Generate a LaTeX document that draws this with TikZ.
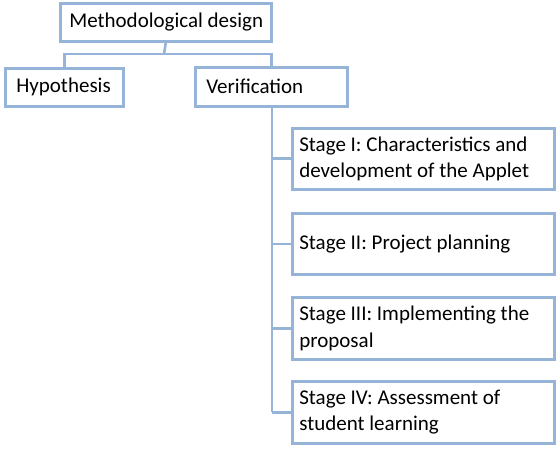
\documentclass[tikz,border=0pt]{standalone}
\usepackage{fontspec}
\setmainfont{Carlito}
\begin{document}
\begin{tikzpicture}[x=1pt,y=-1pt,
  line width=2.6pt,
  box/.style={draw=boxblue, fill=white, anchor=north west, inner sep=0pt},
  txt/.style={anchor=west, inner sep=0pt, align=left, font=\fontsize{21}{26.5}\selectfont},
  link/.style={draw=boxblue}]
\definecolor{boxblue}{RGB}{150,180,215}
\useasboundingbox (0,0) rectangle (556,449);
\node[box, minimum width=211pt, minimum height=38pt] (md) at (59,2) {};
\node[box, minimum width=118pt, minimum height=38pt] (hyp) at (4,67) {};
\node[box, minimum width=152pt, minimum height=39pt] (ver) at (194,66) {};
\node[box, minimum width=262pt, minimum height=61pt] (s1) at (291,127) {};
\node[box, minimum width=262pt, minimum height=61pt] (s2) at (291,212) {};
\node[box, minimum width=262pt, minimum height=62pt] (s3) at (291,296) {};
\node[box, minimum width=262pt, minimum height=62pt] (s4) at (291,380) {};
\node[txt] (mdt) at ([xshift=9pt]md.west) {Methodological design};
\node[txt] (hypt) at ([xshift=11pt]hyp.west) {Hypothesis};
\node[txt] (vert) at ([xshift=11pt]ver.west) {Verification};
\node[txt] (s1t) at ([xshift=7pt]s1.west) {Stage I: Characteristics and\\development of the Applet};
\node[txt] (s2t) at ([xshift=7pt]s2.west) {Stage II: Project planning};
\node[txt] (s3t) at ([xshift=7pt]s3.west) {Stage III: Implementing the\\proposal};
\node[txt] (s4t) at ([xshift=7pt]s4.west) {Stage IV: Assessment of\\student learning};
\coordinate (bus) at (164,54);
\coordinate (trunk) at (272,110);
\draw[link] (md.south) -- (bus);
\draw[link] (hyp.north) |- (bus) -| (ver.north);
\draw[link] (trunk |- ver.south) -- (trunk |- s4.west);
\draw[link] (trunk |- s1.west) -- (s1.west);
\draw[link] (trunk |- s2.west) -- (s2.west);
\draw[link] (trunk |- s3.west) -- (s3.west);
\draw[link] (trunk |- s4.west) -- (s4.west);
\end{tikzpicture}
\end{document}
